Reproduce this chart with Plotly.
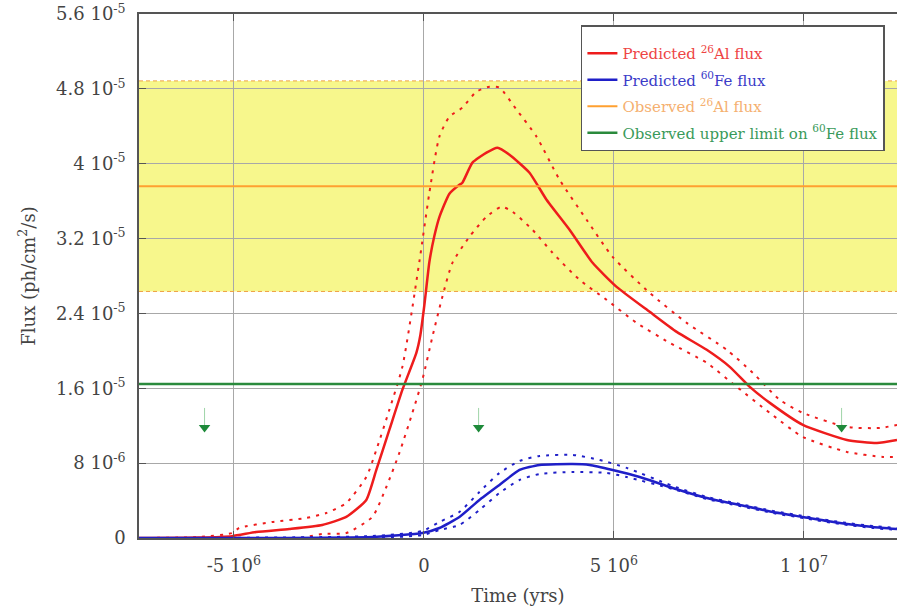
import plotly.graph_objects as go

# ---------------- data (time in years, flux in ph/cm^2/s) ----------------
AL_T = [-7.495e6, -5.914e6, -5.045e6, -4.413e6, -3.543e6, -2.674e6, -2.042e6, -1.515e6, -1.251e6,
        -0.909e6, -0.566e6, -0.198e6, -0.092e6, 0.013e6, 0.145e6, 0.277e6, 0.408e6, 0.672e6, 0.935e6,
        1.014e6, 1.278e6, 1.647e6, 1.936e6, 2.252e6, 2.779e6, 3.227e6, 3.833e6, 4.439e6, 5.071e6,
        5.941e6, 6.652e6, 7.442e6, 8.048e6, 8.575e6, 9.102e6, 9.971e6, 11.130e6, 11.921e6, 12.448e6]
AL_FLUX = [0.0, 0.005e-5, 0.020e-5, 0.064e-5, 0.096e-5, 0.139e-5, 0.225e-5, 0.406e-5, 0.727e-5,
           1.155e-5, 1.583e-5, 1.979e-5, 2.170e-5, 2.490e-5, 2.950e-5, 3.230e-5, 3.430e-5, 3.680e-5, 3.775e-5,
           3.797e-5, 4.011e-5, 4.118e-5, 4.171e-5, 4.096e-5, 3.904e-5, 3.615e-5, 3.294e-5, 2.941e-5, 2.684e-5,
           2.417e-5, 2.203e-5, 2.011e-5, 1.829e-5, 1.615e-5, 1.444e-5, 1.209e-5, 1.048e-5, 1.016e-5, 1.048e-5]

AL_HI_T = [-7.495e6, -5.914e6, -5.045e6, -4.860e6, -3.991e6, -3.095e6, -2.569e6, -2.042e6, -1.515e6,
           -1.251e6, -0.909e6, -0.566e6, -0.119e6, 0.145e6, 0.408e6, 0.672e6, 1.014e6, 1.383e6,
           1.726e6, 1.989e6, 2.437e6, 2.964e6, 3.570e6, 4.281e6, 4.966e6, 5.941e6, 6.915e6,
           7.969e6, 8.654e6, 9.365e6, 9.971e6, 11.130e6, 11.999e6, 12.448e6]
AL_HI = [0.0, 0.011e-5, 0.053e-5, 0.107e-5, 0.171e-5, 0.214e-5, 0.267e-5, 0.374e-5, 0.652e-5,
         0.941e-5, 1.369e-5, 1.829e-5, 2.952e-5, 3.690e-5, 4.289e-5, 4.503e-5, 4.599e-5, 4.770e-5,
         4.823e-5, 4.813e-5, 4.578e-5, 4.289e-5, 3.829e-5, 3.401e-5, 3.005e-5, 2.620e-5, 2.299e-5,
         2.011e-5, 1.765e-5, 1.476e-5, 1.337e-5, 1.187e-5, 1.176e-5, 1.209e-5]

AL_LO_T = [-7.495e6, -3.280e6, -2.674e6, -2.042e6, -1.357e6, -0.988e6, -0.645e6, -0.303e6, -0.040e6,
           0.224e6, 0.487e6, 0.751e6, 1.199e6, 1.647e6, 2.042e6, 2.331e6, 2.858e6, 3.385e6,
           4.096e6, 4.808e6, 5.598e6, 6.467e6, 7.442e6, 8.233e6, 9.102e6, 9.971e6, 11.130e6,
           12.079e6, 12.448e6]
AL_LO = [0.0, 0.0, 0.043e-5, 0.053e-5, 0.225e-5, 0.545e-5, 0.909e-5, 1.337e-5, 1.690e-5,
         2.150e-5, 2.578e-5, 2.941e-5, 3.219e-5, 3.433e-5, 3.540e-5, 3.487e-5, 3.294e-5, 3.048e-5,
         2.759e-5, 2.545e-5, 2.299e-5, 2.086e-5, 1.872e-5, 1.615e-5, 1.337e-5, 1.080e-5, 0.920e-5,
         0.866e-5, 0.866e-5]

FE_T = [-7.495e6, -4.413e6, -1.357e6, -0.040e6, 0.408e6, 0.935e6, 1.462e6, 1.989e6, 2.516e6,
        3.043e6, 3.912e6, 4.360e6, 4.966e6, 5.677e6, 6.546e6, 7.442e6, 8.312e6, 9.181e6,
        9.971e6, 10.946e6, 11.815e6, 12.448e6]
FE_FLUX = [0.0, 0.0, 0.011e-5, 0.053e-5, 0.107e-5, 0.225e-5, 0.406e-5, 0.567e-5, 0.727e-5,
           0.781e-5, 0.791e-5, 0.781e-5, 0.727e-5, 0.652e-5, 0.535e-5, 0.428e-5, 0.353e-5, 0.278e-5,
           0.225e-5, 0.160e-5, 0.118e-5, 0.096e-5]

FE_HI_T = [-7.495e6, -1.357e6, -0.040e6, 0.408e6, 0.935e6, 1.462e6, 1.989e6, 2.516e6, 3.043e6,
           3.912e6, 4.623e6, 5.335e6, 6.546e6, 7.442e6, 8.312e6, 9.181e6, 9.971e6, 10.946e6,
           11.815e6, 12.448e6]
FE_HI = [0.0, 0.021e-5, 0.075e-5, 0.171e-5, 0.278e-5, 0.492e-5, 0.695e-5, 0.823e-5, 0.877e-5,
         0.888e-5, 0.834e-5, 0.749e-5, 0.556e-5, 0.439e-5, 0.364e-5, 0.289e-5, 0.235e-5, 0.171e-5,
         0.128e-5, 0.107e-5]

FE_LO_T = [-7.495e6, -1.357e6, -0.040e6, 0.408e6, 0.935e6, 1.462e6, 1.989e6, 2.516e6, 3.043e6,
           3.912e6, 4.808e6, 5.335e6, 6.546e6, 7.442e6, 8.312e6, 9.181e6, 9.971e6, 10.946e6,
           11.815e6, 12.448e6]
FE_LO = [0.0, 0.0, 0.032e-5, 0.086e-5, 0.139e-5, 0.299e-5, 0.481e-5, 0.620e-5, 0.684e-5,
         0.706e-5, 0.695e-5, 0.652e-5, 0.524e-5, 0.417e-5, 0.342e-5, 0.267e-5, 0.214e-5, 0.150e-5,
         0.107e-5, 0.086e-5]

AL_OBS = 3.76e-5
AL_OBS_LOW = 2.635e-5
AL_OBS_HIGH = 4.885e-5
FE_LIMIT = 1.645e-5

ARROW_T = [-5.77e6, 1.44e6, 10.99e6]
ARROW_TOP = [1.39e-5, 1.39e-5, 1.39e-5]
ARROW_HEAD = [1.18e-5, 1.18e-5, 1.18e-5]

X_RANGE = [-7.495e6, 12.448e6]
Y_RANGE = [0, 5.6e-5]

X_TICKS = [-5e6, 0, 5e6, 1e7]
X_TICK_TEXT = ["-5 10<sup>6</sup>", "0", "5 10<sup>6</sup>", "1 10<sup>7</sup>"]
Y_TICKS = [0, 0.8e-5, 1.6e-5, 2.4e-5, 3.2e-5, 4.0e-5, 4.8e-5, 5.6e-5]
Y_TICK_TEXT = ["0", "8 10<sup>-6</sup>", "1.6 10<sup>-5</sup>", "2.4 10<sup>-5</sup>",
               "3.2 10<sup>-5</sup>", "4 10<sup>-5</sup>", "4.8 10<sup>-5</sup>", "5.6 10<sup>-5</sup>"]

# ---------------- styles ----------------
RED = "#ee1c1c"
BLUE = "#1f1fc8"
ORANGE = "#ffa030"
GREEN = "#2a8a3c"
FONT = "DejaVu Serif"
DOTS = "3px,6px"

fig = go.Figure()

# observed Al band (below gridlines)
fig.add_shape(type="rect", xref="paper", x0=0, x1=1, yref="y", y0=AL_OBS_LOW, y1=AL_OBS_HIGH,
              fillcolor="#f7f78c", line_width=0, layer="below")

band_x = [X_RANGE[0], X_RANGE[1]]
for yv in (AL_OBS_LOW, AL_OBS_HIGH):
    fig.add_trace(go.Scatter(x=band_x, y=[yv, yv], mode="lines", showlegend=False, hoverinfo="skip",
                             line=dict(color="#eea040", width=1, dash="4px,3px")))

# dotted uncertainty curves
for t, v, c in ((AL_HI_T, AL_HI, RED), (AL_LO_T, AL_LO, RED), (FE_HI_T, FE_HI, BLUE), (FE_LO_T, FE_LO, BLUE)):
    fig.add_trace(go.Scatter(x=t, y=v, mode="lines", showlegend=False, hoverinfo="skip",
                             line=dict(color=c, width=2, dash=DOTS, shape="spline", smoothing=0.6)))

fig.add_trace(go.Scatter(x=AL_T, y=AL_FLUX, mode="lines", legendgroup="a",
                         name="<span style='color:#ee4444'>Predicted <sup>26</sup>Al flux</span>",
                         line=dict(color=RED, width=2.5, shape="spline", smoothing=0.5)))
fig.add_trace(go.Scatter(x=FE_T, y=FE_FLUX, mode="lines", legendgroup="b",
                         name="<span style='color:#3b3bc8'>Predicted <sup>60</sup>Fe flux</span>",
                         line=dict(color=BLUE, width=2.5, shape="spline", smoothing=0.5)))
fig.add_trace(go.Scatter(x=band_x, y=[AL_OBS, AL_OBS], mode="lines", legendgroup="c",
                         name="<span style='color:#f5b070'>Observed <sup>26</sup>Al flux</span>",
                         line=dict(color=ORANGE, width=2)))
fig.add_trace(go.Scatter(x=band_x, y=[FE_LIMIT, FE_LIMIT], mode="lines", legendgroup="d",
                         name="<span style='color:#3a9a5a'>Observed upper limit on <sup>60</sup>Fe flux</span>",
                         line=dict(color=GREEN, width=2.5)))

# upper-limit arrows
stem_x, stem_y = [], []
for t, top, head in zip(ARROW_T, ARROW_TOP, ARROW_HEAD):
    stem_x += [t, t, None]
    stem_y += [top, head, None]
fig.add_trace(go.Scatter(x=stem_x, y=stem_y, mode="lines", showlegend=False, hoverinfo="skip",
                         line=dict(color="#9fd4a8", width=1)))
fig.add_trace(go.Scatter(x=ARROW_T, y=ARROW_HEAD, mode="markers", showlegend=False, hoverinfo="skip",
                         marker=dict(symbol="triangle-down", size=10, color="#1e8a3a")))

axis_common = dict(showline=True, linecolor="#555555", linewidth=1.5, ticks="inside", ticklen=7,
                   tickcolor="#555555", showgrid=True, gridcolor="#a8a8a8", gridwidth=1.2,
                   zeroline=False, ticklabeloverflow="allow", automargin=False,
                   tickfont=dict(family=FONT, size=18, color="#444444"))

fig.update_layout(
    width=897, height=606,
    margin=dict(l=139, r=0, t=14, b=68, autoexpand=False),
    paper_bgcolor="white", plot_bgcolor="white",
    font=dict(family=FONT, color="#444444"),
    xaxis=dict(range=X_RANGE, tickvals=X_TICKS, ticktext=X_TICK_TEXT, mirror="ticks",
               ticklabelstandoff=11,
               title=dict(text="Time (yrs)", font=dict(family=FONT, size=18, color="#444444"), standoff=15),
               **axis_common),
    yaxis=dict(range=Y_RANGE, tickvals=Y_TICKS, ticktext=Y_TICK_TEXT, mirror=False,
               ticklabelstandoff=8,
               title=dict(text="Flux (ph/cm<sup>2</sup>/s)", font=dict(family=FONT, size=18, color="#444444"), standoff=16),
               **axis_common),
    legend=dict(x=0.583, y=0.979, xanchor="left", yanchor="top", bgcolor="white",
                bordercolor="#555555", borderwidth=1.5, tracegroupgap=4, traceorder="grouped",
                title=dict(text=" ", font=dict(size=8)),
                font=dict(family=FONT, size=15)),
    showlegend=True,
)

# the page's default 8px body margin would shift and clip the 897x606 figure
fig.write_html("out.html", config={"displayModeBar": False},
               post_script="document.body.style.margin='0px';document.body.style.overflow='hidden';")
